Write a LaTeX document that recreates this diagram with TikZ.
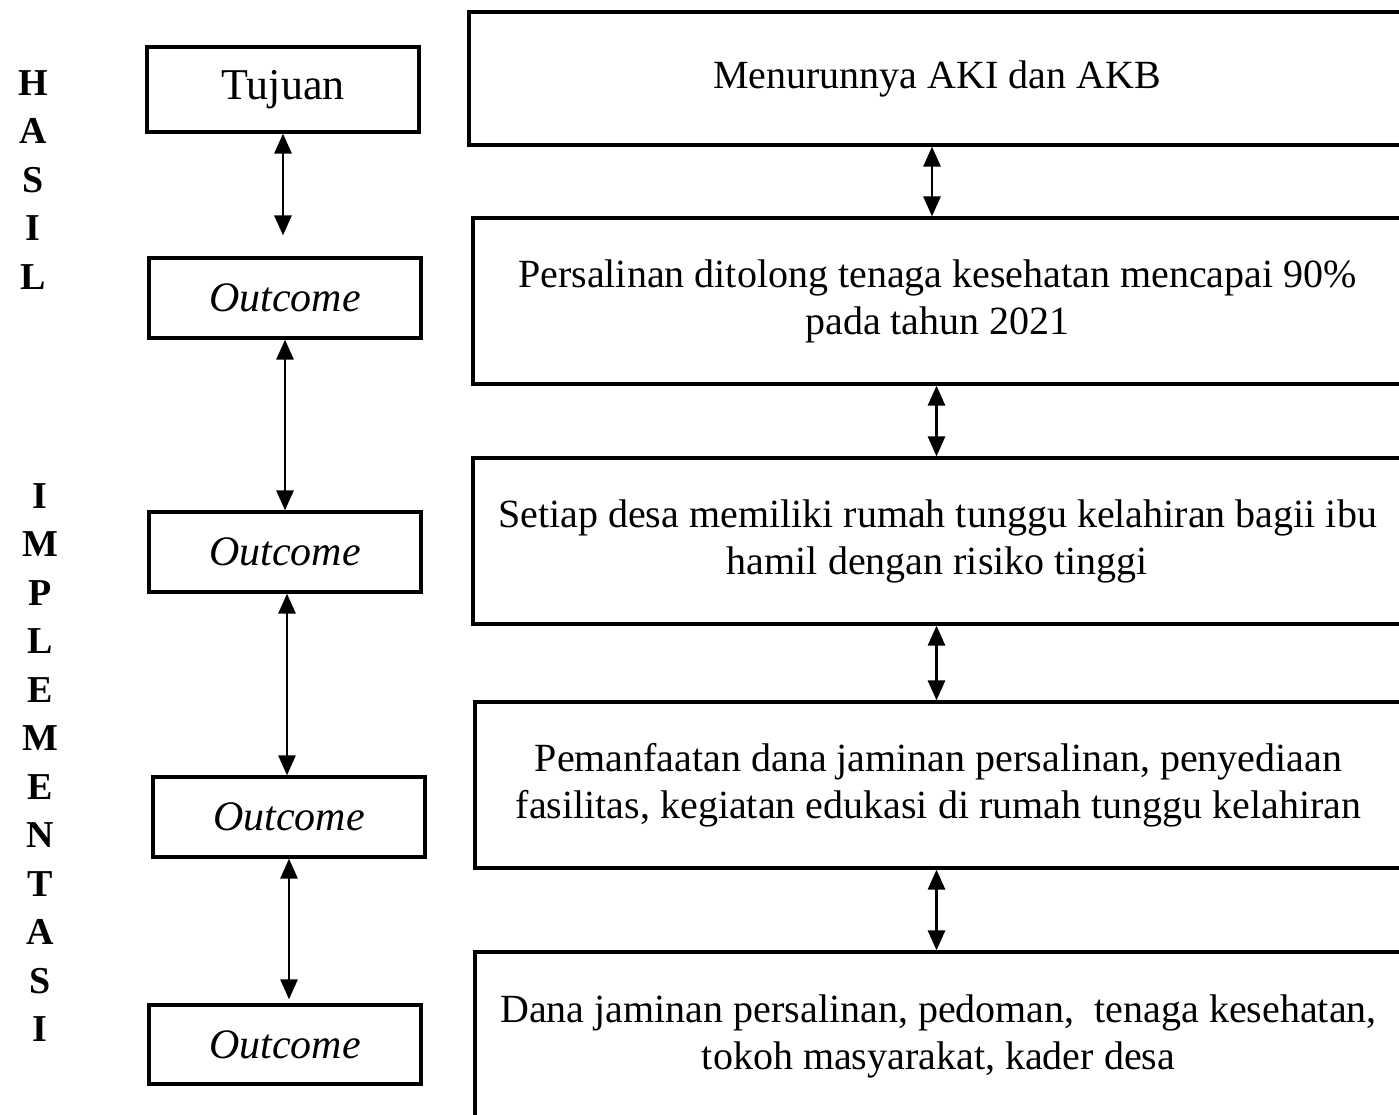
\documentclass[tikz,border=0pt]{standalone}
\usepackage{fontspec}
\setmainfont{Liberation Serif}
\usetikzlibrary{arrows.meta}
\begin{document}
\begin{tikzpicture}[x=1pt,y=-1pt,
  lbox/.style={draw, line width=3.2pt, minimum width=272pt, minimum height=80pt, inner sep=0pt, font=\fontsize{42}{44}\selectfont},
  rbox/.style={draw, line width=3.2pt, inner sep=0pt, align=center, font=\fontsize{40}{47}\selectfont},
  link/.style={line width=2.8pt, {Triangle[width=17pt,length=20pt]}-{Triangle[width=17pt,length=20pt]}},
  side/.style={font=\fontsize{38}{48.5}\selectfont\bfseries, align=center, inner sep=0pt}]
\useasboundingbox (0,0) rectangle (1399,1115);
\clip (0,0) rectangle (1399,1115);
\fill[white] (0,0) rectangle (1399,1115);

% side labels
\node[side] (hasil) at (33,180) {H\\A\\S\\I\\L};
\node[side] (impl) at (40,762.5) {I\\M\\P\\L\\E\\M\\E\\N\\T\\A\\S\\I};

% left boxes
\node[lbox, minimum height=85pt, font=\fontsize{44}{46}\selectfont] (l1) at (283,89.5) {Tujuan};
\node[lbox] (l2) at (285,298) {\itshape Outcome};
\node[lbox] (l3) at (285,552) {\itshape Outcome};
\node[lbox] (l4) at (289,817) {\itshape Outcome};
\node[lbox, minimum height=79pt] (l5) at (285,1044.5) {\itshape Outcome};

% right boxes
\node[rbox, minimum width=936pt, minimum height=133pt] (r1) at (937,78.5) {Menurunnya AKI dan AKB};
\node[rbox, minimum width=929pt, minimum height=166pt] (r2) at (937.5,301) {Persalinan ditolong tenaga kesehatan mencapai 90\%\\pada tahun 2021};
\node[rbox, minimum width=929pt, minimum height=166pt] (r3) at (937.5,541) {Setiap desa memiliki rumah tunggu kelahiran bagii ibu\\hamil dengan risiko tinggi};
\node[rbox, minimum width=927pt, minimum height=166pt] (r4) at (938.5,785) {Pemanfaatan dana jaminan persalinan, penyediaan\\fasilitas, kegiatan edukasi di rumah tunggu kelahiran};
\node[rbox, minimum width=927pt, minimum height=168pt] (r5) at (938.5,1036) {Dana jaminan persalinan, pedoman, \ tenaga kesehatan,\\tokoh masyarakat, kader desa};

% left arrows
\draw[link, shorten >=21pt] (l1.south) -- (l1.south |- l2.north);
\draw[link] (l2.south) -- (l2.south |- l3.north);
\draw[link] ([xshift=2pt]l3.south) -- ([xshift=2pt]l3.south |- l4.north);
\draw[link, shorten >=4pt] (l4.south) -- (l4.south |- l5.north);

% right arrows
\draw[link] ([xshift=-5pt]r1.south) -- ([xshift=-5pt]r1.south |- r2.north);
\draw[link] ([xshift=-1pt]r2.south) -- ([xshift=-1pt]r2.south |- r3.north);
\draw[link] ([xshift=-1pt]r3.south) -- ([xshift=-1pt]r3.south |- r4.north);
\draw[link] ([xshift=-2pt]r4.south) -- ([xshift=-2pt]r4.south |- r5.north);
\end{tikzpicture}
\end{document}
